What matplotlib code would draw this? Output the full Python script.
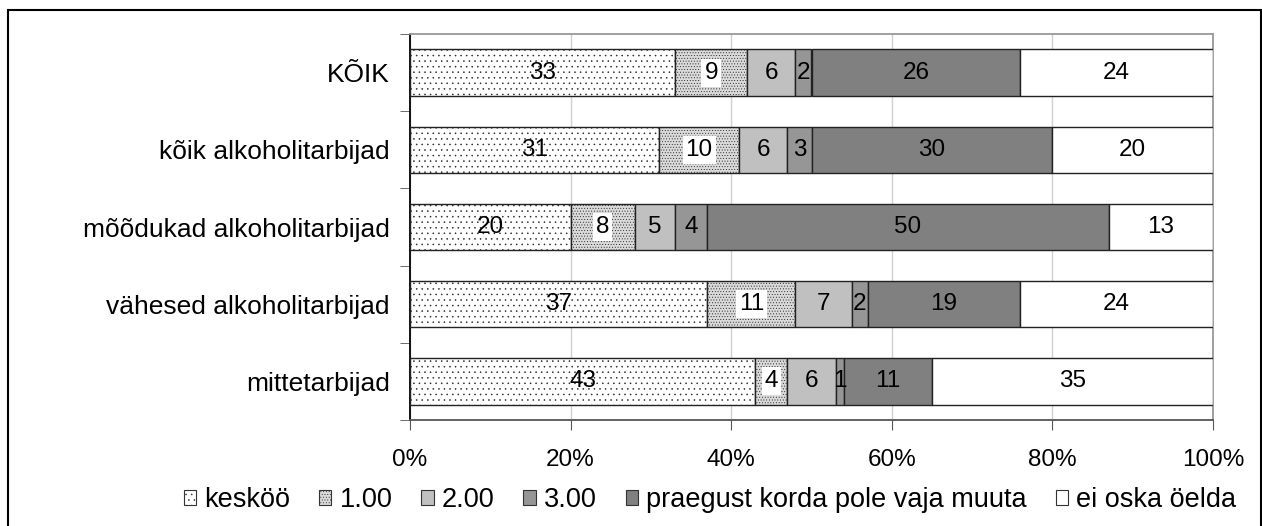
import numpy as np
import matplotlib
matplotlib.use("Agg")
import matplotlib.pyplot as plt
from matplotlib.patches import Rectangle, Patch

plt.rcParams['font.family'] = ['Liberation Sans', 'DejaVu Sans']
plt.rcParams['hatch.linewidth'] = 0.35

# andmed
categories = ['KÕIK', 'kõik alkoholitarbijad', 'mõõdukad alkoholitarbijad',
              'vähesed alkoholitarbijad', 'mittetarbijad']
series_names = ['kesköö', '1.00', '2.00', '3.00',
                'praegust korda pole vaja muuta', 'ei oska öelda']
keskoo = [33, 31, 20, 37, 43]
v100 = [9, 10, 8, 11, 4]
v200 = [6, 6, 5, 7, 6]
v300 = [2, 3, 4, 2, 1]
praegust = [26, 30, 50, 19, 11]
ei_oska = [24, 20, 13, 24, 35]
x_ticks = [0, 20, 40, 60, 80, 100]

series = [keskoo, v100, v200, v300, praegust, ei_oska]
faces = ['white', '#DADADA', '#C0C0C0', '#969696', '#808080', 'white']
hatches = ['...', '......', None, None, None, None]
fs = 17.5

fig = plt.figure(figsize=(12.62, 5.26), dpi=100)
ax = fig.add_axes([410 / 1262, 106 / 526, 803 / 1262, 386 / 526])

y = np.arange(len(categories))
left = np.zeros(len(categories))
for i, vals in enumerate(series):
    vals = np.array(vals, dtype=float)
    ax.barh(y, vals, left=left, height=0.6, color=faces[i], hatch=hatches[i],
            edgecolor='#222222', linewidth=1.0, zorder=3)
    for j, v in enumerate(vals):
        bbox = None
        if i == 1:
            bbox = dict(boxstyle='square,pad=0.12', fc='white', ec='none')
        ax.text(left[j] + v / 2, y[j], f'{int(v)}', ha='center', va='center',
                fontsize=fs, color='black', zorder=5, bbox=bbox)
    left += vals

ax.set_xlim(0, 100)
ax.set_ylim(len(categories) - 0.5, -0.5)
ax.set_xticks(x_ticks)
ax.set_xticklabels([f'{t}%' for t in x_ticks], fontsize=fs)
ax.set_yticks(y)
ax.set_yticklabels(categories, fontsize=19)
ax.set_yticks(np.arange(len(categories) + 1) - 0.5, minor=True)
ax.tick_params(axis='y', which='major', length=0, pad=14.5)
ax.tick_params(axis='y', which='minor', length=7, color='#555555', direction='out')
ax.tick_params(axis='x', length=7, color='#555555', pad=14)

ax.grid(axis='x', color='#D0D0D0', linewidth=1.0, zorder=0)
ax.spines['left'].set_color('black')
ax.spines['bottom'].set_color('#555555')
ax.spines['top'].set_color('#999999')
ax.spines['right'].set_color('#999999')
for s in ax.spines.values():
    s.set_linewidth(1.3)

handles = [Patch(facecolor=faces[i], hatch=hatches[i], edgecolor='#333333',
                 linewidth=0.8) for i in range(len(series))]
fig.legend(handles, series_names, loc='center', bbox_to_anchor=(710 / 1262, 26 / 526),
           ncol=6, frameon=False, fontsize=19.5, handlelength=0.45,
           handleheight=0.45, handletextpad=0.3, columnspacing=1.07,
           borderpad=0, borderaxespad=0)

# välimine raam
fig.patches.append(Rectangle((8 / 1262, -0.1), 1253 / 1262, 1.1 - 10 / 526,
                             transform=fig.transFigure, fill=False,
                             edgecolor='black', linewidth=1.5))

fig.savefig('out.png', dpi=100)
